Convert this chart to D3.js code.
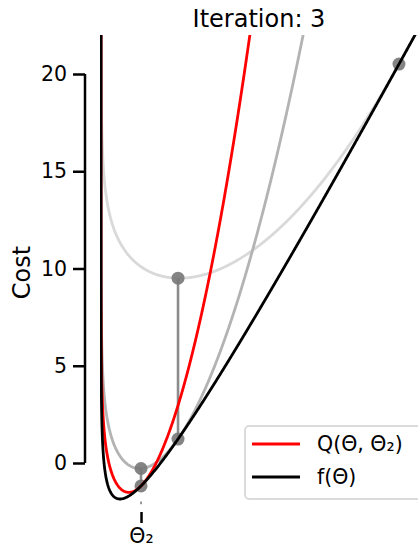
<!DOCTYPE html>
<html>
<head>
<meta charset="utf-8">
<script src="https://cdn.jsdelivr.net/npm/d3@7"></script>
<style>
  html, body { margin: 0; padding: 0; background: #fff; }
  svg { display: block; font-family: "DejaVu Sans", sans-serif; }
</style>
</head>
<body>
<svg id="chart" width="418" height="547"></svg>
<script>
// Cost f(θ) = a·θ + b·θ² + c·ln θ + d
const costCoef = [7.75, 0.0141, -1.86, -6.367];
// MM iterates θ0, θ1, θ2
const iterates = [3.76, 0.972, 0.505];
// curvature weight of the quadratic majorizer term K·(θ-θk)²/θk
const majorizerWeight = [4.0];
const iteration = 3;
const yTicks = [0, 5, 10, 15, 20];
const xDomain = [0, 4];
const yDomain = [-2, 22];
const surrogateColors = ["#d9d9d9", "#b3b3b3", "#ff0000"];
const legendLabels = ["Q(Θ, Θ₂)", "f(Θ)"];

const f = t => costCoef[0] * t + costCoef[1] * t * t + costCoef[2] * Math.log(t) + costCoef[3];
const Q = k => t => f(t) + majorizerWeight[0] * (t - iterates[k]) ** 2 / iterates[k];

const svg = d3.select("#chart");
const x = d3.scaleLinear().domain(xDomain).range([101, 418]);
const y = d3.scaleLinear().domain([0, 20]).range([463, 74]);
const yTop = y(yDomain[1]), yBot = y(yDomain[0]);

svg.append("defs").append("clipPath").attr("id", "plot")
  .append("rect").attr("x", 100).attr("y", yTop).attr("width", 330).attr("height", yBot - yTop);

// evaluation grid: dense near the log barrier at θ = 0
const grid = d3.range(-9, Math.log10(0.05), 0.02).map(e => 10 ** e)
  .concat(d3.range(0.05, 4.2, 0.005));

const line = fn => d3.line()
  .x(t => x(t))
  .y(t => y(Math.max(Math.min(fn(t), 60), -10)))(grid);

const plot = svg.append("g").attr("clip-path", "url(#plot)");

// previous surrogates (older = lighter)
[0, 1].forEach(k => {
  plot.append("path").attr("d", line(Q(k)))
    .attr("fill", "none").attr("stroke", surrogateColors[k]).attr("stroke-width", 2.8);
});

// drop lines from surrogate minimum to the cost curve
[1, 2].forEach(k => {
  plot.append("line")
    .attr("x1", x(iterates[k])).attr("x2", x(iterates[k]))
    .attr("y1", y(Q(k - 1)(iterates[k]))).attr("y2", y(f(iterates[k])))
    .attr("stroke", "#8c8c8c").attr("stroke-width", 2.6);
});

// guide below the current iterate
svg.append("line")
  .attr("x1", x(iterates[2])).attr("x2", x(iterates[2]))
  .attr("y1", y(-1.98)).attr("y2", y(-2.12))
  .attr("stroke", "#999").attr("stroke-width", 2);

// iterate markers
const pts = [{t: iterates[0], v: f(iterates[0])}];
[1, 2].forEach(k => {
  pts.push({t: iterates[k], v: Q(k - 1)(iterates[k])});
  pts.push({t: iterates[k], v: f(iterates[k])});
});
plot.selectAll("circle.pt").data(pts).enter().append("circle")
  .attr("class", "pt")
  .attr("cx", d => x(d.t)).attr("cy", d => y(d.v)).attr("r", 6.5)
  .attr("fill", "#777").attr("fill-opacity", 0.9);

// current surrogate and cost
plot.append("path").attr("d", line(Q(2)))
  .attr("fill", "none").attr("stroke", surrogateColors[2]).attr("stroke-width", 2.8);
plot.append("path").attr("d", line(f))
  .attr("fill", "none").attr("stroke", "#000").attr("stroke-width", 2.8);

// y axis (offset, trimmed)
const yAxis = svg.append("g").attr("transform", "translate(85,0)")
  .call(d3.axisLeft(y).tickValues(yTicks).tickSize(12).tickSizeOuter(0).tickPadding(6).tickFormat(d3.format("d")));
yAxis.select(".domain").attr("stroke-width", 2.5).attr("d", `M0,${y(20)}V${y(0)}`);
yAxis.selectAll(".tick line").attr("stroke-width", 2.5);
yAxis.selectAll(".tick text").attr("font-size", 20.5).attr("fill", "#000").attr("font-family", "DejaVu Sans");

svg.append("text")
  .attr("transform", `translate(30,${(yTop + yBot) / 2 + 4}) rotate(-90)`)
  .attr("text-anchor", "middle").attr("font-size", 24).text("Cost");

// x axis: single tick at the current iterate
const xAxis = svg.append("g").attr("transform", "translate(0,512)")
  .call(d3.axisBottom(x).tickValues([iterates[2]]).tickSize(11).tickPadding(5).tickFormat(() => "Θ₂"));
xAxis.select(".domain").remove();
xAxis.selectAll(".tick line").attr("stroke-width", 2.5);
xAxis.selectAll(".tick text").attr("font-size", 20.5).attr("fill", "#000").attr("font-family", "DejaVu Sans");

// title
svg.append("text").attr("x", 259).attr("y", 27).attr("text-anchor", "middle")
  .attr("font-size", 24).text(`Iteration: ${iteration}`);

// legend
const lg = svg.append("g").attr("transform", "translate(245,426)");
lg.append("rect").attr("width", 200).attr("height", 73).attr("rx", 4)
  .attr("fill", "#fff").attr("fill-opacity", 0.8).attr("stroke", "#d0d0d0").attr("stroke-width", 1.5);
[surrogateColors[2], "#000"].forEach((c, i) => {
  const yy = 18 + i * 33;
  lg.append("line").attr("x1", 7).attr("x2", 55).attr("y1", yy).attr("y2", yy)
    .attr("stroke", c).attr("stroke-width", 2.8);
  lg.append("text").attr("x", 72).attr("y", yy).attr("dy", "0.36em")
    .attr("font-size", 20.5).text(legendLabels[i]);
});
</script>
</body>
</html>
